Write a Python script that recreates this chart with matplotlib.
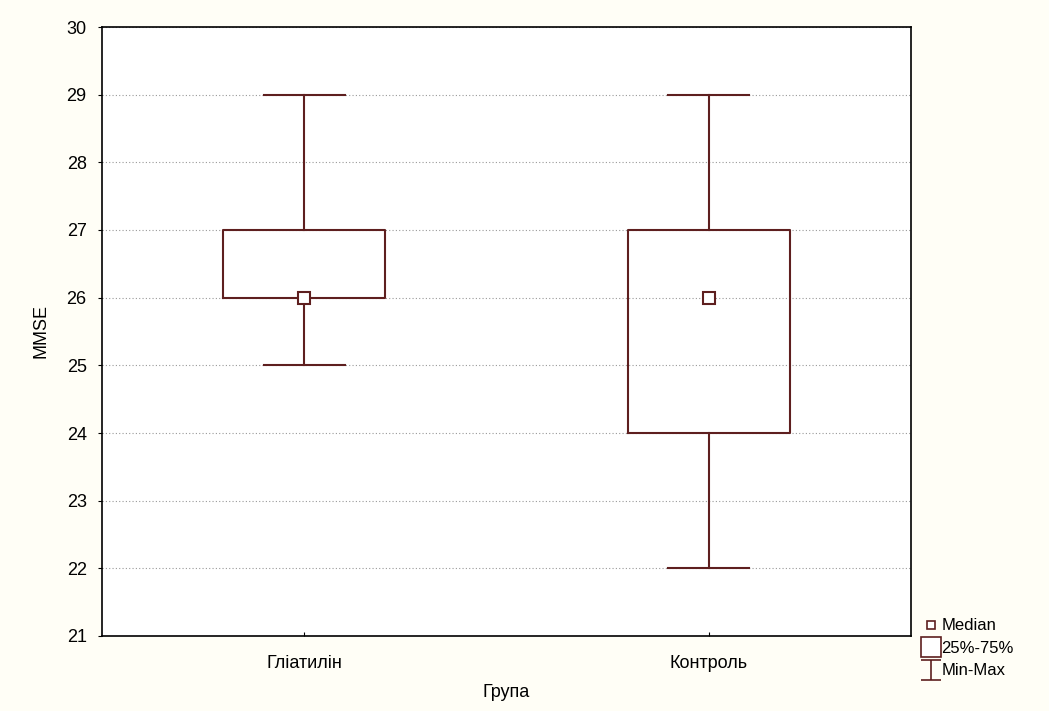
import matplotlib
matplotlib.use("Agg")
import matplotlib.pyplot as plt
from matplotlib.lines import Line2D
from matplotlib.path import Path

groups = ["Гліатилін", "Контроль"]
mins = [25, 22]
q1s = [26, 24]
medians = [26, 26]
q3s = [27, 27]
maxs = [29, 29]

col = "#5e1f1f"
plt.rcParams["font.family"] = ["Liberation Sans", "DejaVu Sans"]

fig = plt.figure(figsize=(10.49, 7.11), dpi=100, facecolor="#fffef6")
ax = fig.add_axes([102 / 1049, 1 - 636 / 711, (911 - 102) / 1049, (636 - 27) / 711])
ax.set_facecolor("white")

pos = list(range(len(groups)))
stats = [dict(med=m, q1=a, q3=b, whislo=lo, whishi=hi, fliers=[])
         for m, a, b, lo, hi in zip(medians, q1s, q3s, mins, maxs)]
ax.bxp(stats, positions=pos, widths=0.4, capwidths=0.2, showfliers=False,
       boxprops=dict(color=col, lw=1.5),
       whiskerprops=dict(color=col, lw=1.5),
       capprops=dict(color=col, lw=1.5),
       medianprops=dict(lw=0))
ax.plot(pos, medians, ls="none", marker="s", ms=8, mfc="white", mec=col, mew=1.5, zorder=5)

ax.set_xlim(-0.5, 1.5)
ax.set_ylim(21, 30)
ax.set_yticks(range(21, 31))
ax.set_xticks(pos)
ax.set_xticklabels(groups)
ax.yaxis.grid(True, ls=(0, (1, 2)), color="#999999", lw=0.8)
ax.set_axisbelow(True)
ax.tick_params(axis="both", labelsize=13, length=3, color="black")
ax.tick_params(axis="x", direction="in", pad=14)
ax.tick_params(axis="y", pad=8)
for s in ax.spines.values():
    s.set_color("black")
    s.set_linewidth(1.2)
ax.set_xlabel("Група", fontsize=13, labelpad=8)
ax.set_ylabel("MMSE", fontsize=13, labelpad=12)

ibeam = Path([(-0.5, 0.5), (0.5, 0.5), (0, 0.5), (0, -0.5), (-0.5, -0.5), (0.5, -0.5)],
             [Path.MOVETO, Path.LINETO, Path.MOVETO, Path.LINETO, Path.MOVETO, Path.LINETO])
handles = [
    Line2D([], [], ls="none", marker="s", ms=6, mfc="white", mec=col, mew=1.2),
    Line2D([], [], ls="none", marker="s", ms=14, mfc="white", mec=col, mew=1.2),
    Line2D([], [], ls="none", marker=ibeam, ms=14, mec=col, mew=1.2),
]
fig.legend(handles, ["Median", "25%-75%", "Min-Max"], loc="lower left",
           bbox_to_anchor=(913 / 1049, 21 / 711), frameon=False, fontsize=12,
           handlelength=0.8, handletextpad=0.2, labelspacing=0.45, borderpad=0.2)

fig.savefig("out.png", dpi=100, facecolor=fig.get_facecolor())
